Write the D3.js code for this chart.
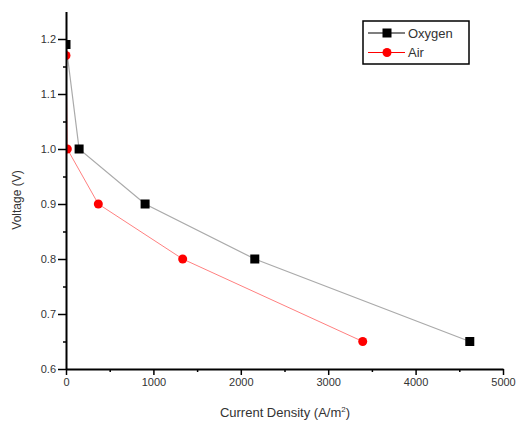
<!DOCTYPE html>
<html><head><meta charset="utf-8">
<script src="https://cdn.jsdelivr.net/npm/d3@7"></script>
<style>body{margin:0;background:#fff}svg{display:block}text{font-family:"Liberation Sans",Arial,sans-serif}</style>
</head><body>
<svg id="chart" width="519" height="423"></svg>
<script>
const oxygenX = [0, 150, 905, 2160, 4620];
const oxygenY = [1.19, 1.0, 0.9, 0.8, 0.65];
const airX = [0, 15, 370, 1335, 3395];
const airY = [1.17, 1.0, 0.9, 0.8, 0.65];
const seriesNames = ["Oxygen", "Air"];
const xTicks = [0, 1000, 2000, 3000, 4000, 5000];
const yTicks = [0.6, 0.7, 0.8, 0.9, 1.0, 1.1, 1.2];

const svg = d3.select("#chart");
const x = d3.scaleLinear().domain([0, 5000]).range([66, 503]);
const y = d3.scaleLinear().domain([0.6, 1.25]).range([369, 11.5]);
const txtColor = "#333";

svg.append("defs").append("clipPath").attr("id","plotclip")
  .append("rect").attr("x",66).attr("y",0).attr("width",450).attr("height",369);

// minor ticks
const xMinor = d3.range(500, 5000, 1000);
const yMinor = d3.range(0.65, 1.25, 0.1);
svg.append("g").attr("transform","translate(0,369)")
  .call(d3.axisBottom(x).tickValues(xMinor).tickSize(3).tickFormat(""))
  .call(g=>g.select(".domain").remove())
  .call(g=>g.selectAll("line").attr("stroke","#000").attr("stroke-width",1.5));
svg.append("g").attr("transform","translate(66,0)")
  .call(d3.axisLeft(y).tickValues(yMinor).tickSize(3).tickFormat(""))
  .call(g=>g.select(".domain").remove())
  .call(g=>g.selectAll("line").attr("stroke","#000").attr("stroke-width",1.5));

// lines
const oxy = oxygenX.map((v,i)=>[v, oxygenY[i]]);
const air = airX.map((v,i)=>[v, airY[i]]);
const line = d3.line().x(d=>x(d[0])).y(d=>y(d[1]));
const plot = svg.append("g").attr("clip-path","url(#plotclip)");
plot.append("path").attr("d", line(oxy)).attr("fill","none").attr("stroke","#aaa").attr("stroke-width",1.2);
plot.append("path").attr("d", line(air)).attr("fill","none").attr("stroke","#ff8080").attr("stroke-width",1);

plot.selectAll(".oxm").data(oxy).enter().append("rect")
  .attr("x",d=>x(d[0])-4.5).attr("y",d=>y(d[1])-4.5).attr("width",9).attr("height",9).attr("fill","#000");
plot.selectAll(".airm").data(air).enter().append("circle")
  .attr("cx",d=>x(d[0])).attr("cy",d=>y(d[1])).attr("r",4.5).attr("fill","#ff0000");

const gx = svg.append("g").attr("transform","translate(0,369)")
  .call(d3.axisBottom(x).tickValues(xTicks).tickSize(6).tickSizeOuter(0).tickFormat(d3.format("d")));
gx.select(".domain").attr("stroke","#000").attr("stroke-width",2);
gx.selectAll("line").attr("stroke","#000").attr("stroke-width",1.5);
gx.selectAll("text").attr("font-size",11).attr("fill",txtColor).attr("dy","0.95em").attr("y",7);

const gy = svg.append("g").attr("transform","translate(66,0)")
  .call(d3.axisLeft(y).tickValues(yTicks).tickSize(8).tickSizeOuter(0).tickFormat(d3.format(".1f")));
gy.select(".domain").attr("stroke","#000").attr("stroke-width",2);
gy.selectAll("line").attr("stroke","#000").attr("stroke-width",1.5);
gy.selectAll("text").attr("font-size",11).attr("fill",txtColor).attr("x",-10);

// axis titles
svg.append("text").attr("x",285).attr("y",417).attr("text-anchor","middle").attr("font-size",13).attr("fill",txtColor)
  .html('Current Density (A/m<tspan dy="-5" font-size="8">2</tspan><tspan dy="5">)</tspan>');
svg.append("text").attr("transform","translate(21,200) rotate(-90)").attr("text-anchor","middle")
  .attr("font-size",12).attr("fill",txtColor).text("Voltage (V)");

// legend
const lg = svg.append("g");
lg.append("rect").attr("x",363).attr("y",21).attr("width",106).attr("height",43).attr("fill","#fff").attr("stroke","#000").attr("stroke-width",1.5);
const legColors = ["#000","#ff0000"];
seriesNames.forEach((n,i)=>{
  const yy = 33 + i*19.5;
  lg.append("line").attr("x1",368).attr("x2",405).attr("y1",yy).attr("y2",yy).attr("stroke",legColors[i]).attr("stroke-width",1.2);
  if(i===0) lg.append("rect").attr("x",382.5).attr("y",yy-4.5).attr("width",9).attr("height",9).attr("fill","#000");
  else lg.append("circle").attr("cx",387).attr("cy",yy).attr("r",4.5).attr("fill","#ff0000");
  lg.append("text").attr("x",408).attr("y",yy+4.5).attr("font-size",13).attr("fill",txtColor).text(n);
});
</script>
</body></html>
